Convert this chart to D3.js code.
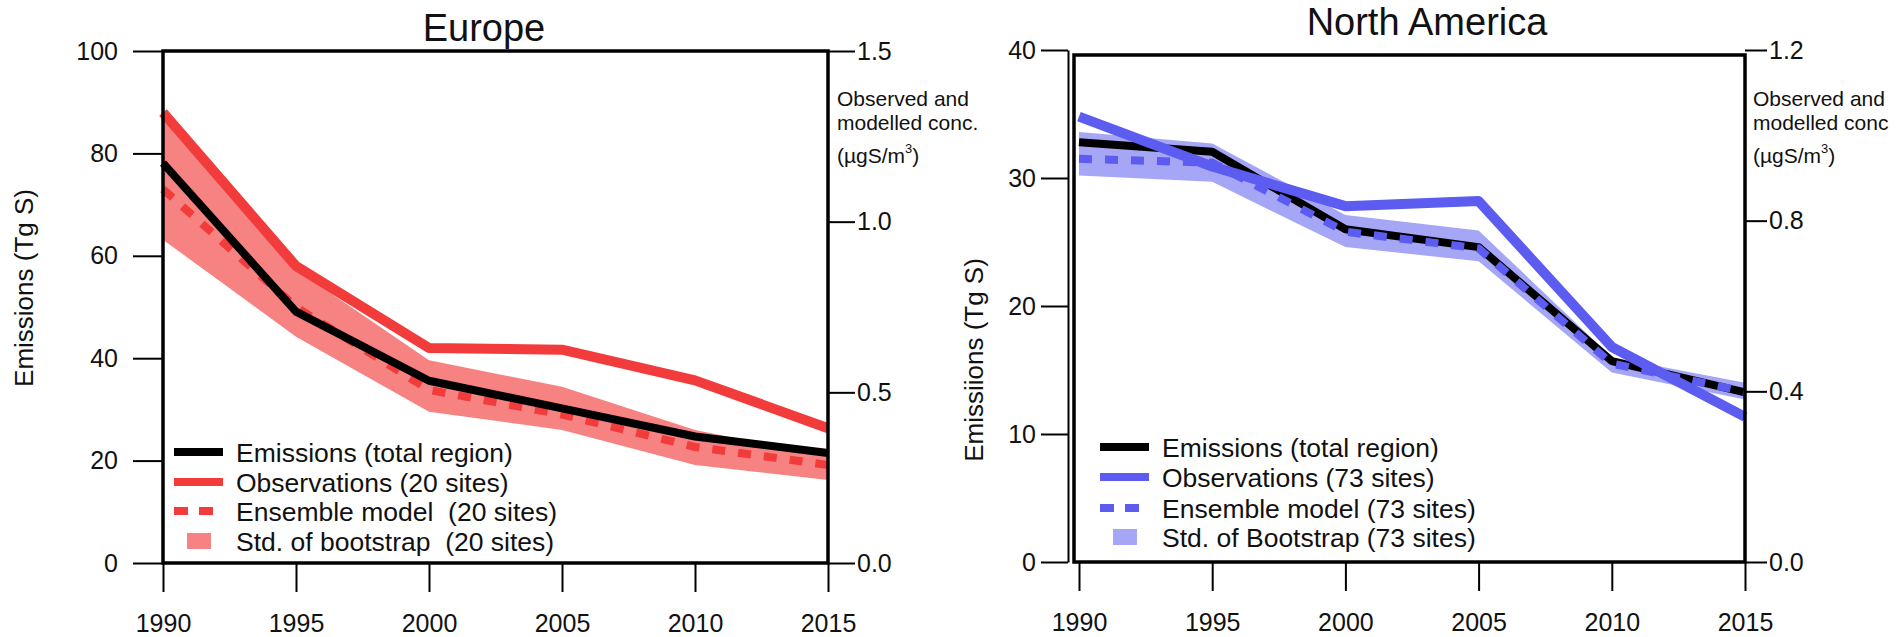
<!DOCTYPE html>
<html>
<head>
<meta charset="utf-8">
<script src="https://cdn.jsdelivr.net/npm/d3@7"></script>
<style>
  body { margin: 0; background: #fff; }
  text { font-family: "Liberation Sans", Arial, Helvetica, sans-serif; fill: #111; }
</style>
</head>
<body>
<script>
// years on the x axis
const years = [1990, 1995, 2000, 2005, 2010, 2015];

// Europe: emissions in Tg S, concentrations in ugS/m3
const euEmissions = [78.1, 49.1, 35.6, 30.2, 24.7, 21.5];
const euObserved  = [1.32, 0.87, 0.63, 0.625, 0.535, 0.395];
const euModel     = [1.095, 0.75, 0.507, 0.435, 0.34, 0.287];
const euBootHigh  = [1.32, 0.86, 0.594, 0.516, 0.39, 0.312];
const euBootLow   = [0.947, 0.663, 0.443, 0.39, 0.287, 0.243];

// North America
const naEmissions = [32.8, 32.05, 26.0, 24.6, 15.7, 13.25];
const naObserved  = [1.044, 0.927, 0.834, 0.846, 0.504, 0.34];
const naModel     = [0.945, 0.936, 0.774, 0.735, 0.465, 0.399];
const naBootHigh  = [1.008, 0.981, 0.813, 0.777, 0.48, 0.42];
const naBootLow   = [0.906, 0.891, 0.738, 0.705, 0.444, 0.381];

// tick values
const euLeftTicks  = [0, 20, 40, 60, 80, 100];
const euRightTicks = [0.0, 0.5, 1.0, 1.5];
const naLeftTicks  = [0, 10, 20, 30, 40];
const naRightTicks = [0.0, 0.4, 0.8, 1.2];

const euLegend = ["Emissions (total region)", "Observations (20 sites)",
                  "Ensemble model  (20 sites)", "Std. of bootstrap  (20 sites)"];
const naLegend = ["Emissions (total region)", "Observations (73 sites)",
                  "Ensemble model (73 sites)", "Std. of Bootstrap (73 sites)"];

function drawPanel(svg, p) {
    let x = d3.scaleLinear().domain([1990, 2015]).range([p.x0, p.x1]);
    let yL = d3.scaleLinear().domain([0, p.leftMax]).range([p.yBottom, p.yTop]);
    let yR = d3.scaleLinear().domain([0, p.rightMax]).range([p.yBottom, p.yTop]);

    let g = svg.append("g");

    // std of bootstrap band
    let area = d3.area()
        .x((d, i) => x(years[i]))
        .y0((d, i) => yR(p.low[i]))
        .y1((d, i) => yR(p.high[i]));
    g.append("path")
        .datum(p.low)
        .attr("d", area)
        .attr("fill", p.band);

    let lineL = d3.line().x((d, i) => x(years[i])).y(d => yL(d));
    let lineR = d3.line().x((d, i) => x(years[i])).y(d => yR(d));

    let layers = {
        emis: () => g.append("path").datum(p.emissions).attr("d", lineL)
            .attr("fill", "none").attr("stroke", "#000").attr("stroke-width", 8)
            .attr("stroke-linejoin", "round"),
        obs: () => g.append("path").datum(p.observed).attr("d", lineR)
            .attr("fill", "none").attr("stroke", p.color).attr("stroke-width", 10)
            .attr("stroke-linejoin", "round"),
        model: () => g.append("path").datum(p.model).attr("d", lineR)
            .attr("fill", "none").attr("stroke", p.color).attr("stroke-width", 8)
            .attr("stroke-dasharray", "13,13")
    };
    p.order.forEach(k => layers[k]());

    // frame
    svg.append("rect")
        .attr("x", p.boxLeft).attr("y", p.boxTop)
        .attr("width", p.x1 - p.boxLeft).attr("height", p.yBottom - p.boxTop)
        .attr("fill", "none").attr("stroke", "#000").attr("stroke-width", 3.5);

    // axes
    let left = svg.append("g")
        .attr("transform", `translate(${p.leftAxisX},0)`)
        .style("font-size", "25px")
        .call(d3.axisLeft(yL).tickValues(p.leftTicks).tickSize(p.leftTick)
            .tickPadding(p.leftPad).tickSizeOuter(0).tickFormat(d3.format("d")));
    if (p.leftAxisX === p.boxLeft) left.select(".domain").remove();
    else left.select(".domain").attr("stroke-width", 2);

    let right = svg.append("g")
        .attr("transform", `translate(${p.x1},0)`)
        .style("font-size", "25px")
        .call(d3.axisRight(yR).tickValues(p.rightTicks).tickSize(p.rightTick)
            .tickPadding(2).tickFormat(d3.format(".1f")));
    right.select(".domain").remove();

    let bottom = svg.append("g")
        .attr("transform", `translate(0,${p.yBottom})`)
        .style("font-size", "25px")
        .call(d3.axisBottom(x).tickValues(years).tickSize(29)
            .tickPadding(22).tickFormat(d3.format("d")));
    bottom.select(".domain").remove();

    [left, right, bottom].forEach(a => {
        a.selectAll(".tick line").attr("stroke", "#000").attr("stroke-width", 2);
        a.selectAll("text").attr("fill", "#111").attr("font-family", "Liberation Sans, Arial, sans-serif");
    });

    // title
    svg.append("text")
        .attr("x", p.titleX).attr("y", p.titleY)
        .attr("text-anchor", "middle")
        .style("font-size", "38px")
        .text(p.title);

    // left axis label
    svg.append("text")
        .attr("transform", `translate(${p.yLabelX},${p.yLabelY}) rotate(-90)`)
        .attr("text-anchor", "middle")
        .style("font-size", "26px")
        .text(p.yLabel);

    // right axis label
    let rl = svg.append("text").style("font-size", "21px");
    rl.append("tspan").attr("x", p.rLabelX).attr("y", 106).text("Observed and");
    rl.append("tspan").attr("x", p.rLabelX).attr("y", 130).text(p.rLine2);
    let t3 = svg.append("text").style("font-size", "21px")
        .attr("x", p.rLabelX).attr("y", 163);
    t3.append("tspan").text("(\u00b5gS/m");
    t3.append("tspan").attr("dy", -10).style("font-size", "13px").text("3");
    t3.append("tspan").attr("dy", 10).text(")");

    // legend
    let lg = svg.append("g");
    p.legendY.forEach((ly, i) => {
        if (i === 0) {
            lg.append("line").attr("x1", p.lgX).attr("x2", p.lgX + 49).attr("y1", ly).attr("y2", ly)
                .attr("stroke", "#000").attr("stroke-width", 8);
        } else if (i === 1) {
            lg.append("line").attr("x1", p.lgX).attr("x2", p.lgX + 49).attr("y1", ly).attr("y2", ly)
                .attr("stroke", p.color).attr("stroke-width", 8);
        } else if (i === 2) {
            lg.append("line").attr("x1", p.lgX).attr("x2", p.lgX + 44).attr("y1", ly).attr("y2", ly)
                .attr("stroke", p.color).attr("stroke-width", 8).attr("stroke-dasharray", "14,11");
        } else {
            lg.append("rect").attr("x", p.lgX + 13).attr("y", ly - 8).attr("width", 24).attr("height", 16)
                .attr("fill", p.band);
        }
        lg.append("text")
            .attr("x", p.lgX + 62).attr("y", ly).attr("dy", "0.36em")
            .style("font-size", "26.5px").style("white-space", "pre")
            .text(p.legend[i]);
    });
}

function main() {
    let svg = d3.select("body").append("svg")
        .attr("width", 1899)
        .attr("height", 637);

    drawPanel(svg, {
        title: "Europe", titleX: 484, titleY: 41,
        x0: 163, x1: 828, yTop: 51, yBottom: 563, boxLeft: 163, boxTop: 51,
        leftAxisX: 163, leftTick: 30, leftPad: 15, rightTick: 27,
        leftMax: 100, rightMax: 1.5, leftTicks: euLeftTicks, rightTicks: euRightTicks,
        emissions: euEmissions, observed: euObserved, model: euModel,
        low: euBootLow, high: euBootHigh,
        color: "#f23c3c", band: "#f68282",
        order: ["model", "emis", "obs"],
        yLabel: "Emissions (Tg S)", yLabelX: 33, yLabelY: 288,
        rLabelX: 837, rLine2: "modelled conc.",
        lgX: 174, legendY: [452, 482, 511, 541], legend: euLegend
    });

    drawPanel(svg, {
        title: "North America", titleX: 1427, titleY: 35,
        x0: 1079, x1: 1745, yTop: 50, yBottom: 562, boxLeft: 1074, boxTop: 55,
        leftAxisX: 1068, leftTick: 27, leftPad: 5, rightTick: 22,
        leftMax: 40, rightMax: 1.2, leftTicks: naLeftTicks, rightTicks: naRightTicks,
        emissions: naEmissions, observed: naObserved, model: naModel,
        low: naBootLow, high: naBootHigh,
        color: "#5c5cf0", band: "#a6a6f6",
        order: ["emis", "obs", "model"],
        yLabel: "Emissiions (Tg S)", yLabelX: 983, yLabelY: 360,
        rLabelX: 1753, rLine2: "modelled conc",
        lgX: 1100, legendY: [447, 477, 508, 537], legend: naLegend
    });
}

main()
</script>
</body>
</html>
